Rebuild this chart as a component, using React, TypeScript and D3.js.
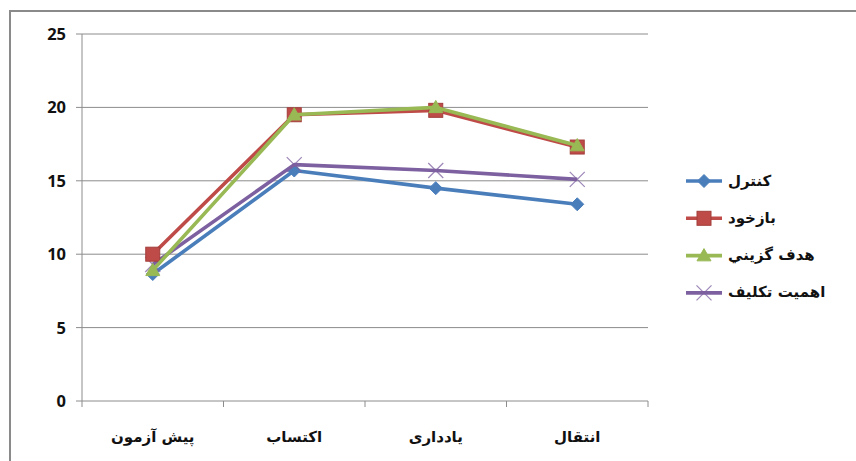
import React from "react";
import * as d3 from "d3";

const categories = ["پیش آزمون", "اکتساب", "یادداری", "انتقال"];
const seriesNames = ["کنترل", "بازخود", "هدف گزيني", "اهميت تكليف"];
const controlValues = [8.65, 15.7, 14.5, 13.4];
const feedbackValues = [10.0, 19.5, 19.8, 17.3];
const goalValues = [8.9, 19.5, 20.0, 17.4];
const taskValues = [9.3, 16.1, 15.7, 15.1];
const yTicks = [0, 5, 10, 15, 20, 25];

const colors = ["#4A7EBB", "#BE4B48", "#98B954", "#7D60A0"];
const markerTypes = ["diamond", "square", "triangle", "x"];

const W = 856;
const H = 461;
const left = 82;
const right = 648;
const top = 34;
const bottom = 401;

function Marker({ type, x, y, color }: { type: string; x: number; y: number; color: string }) {
  if (type === "diamond") {
    const s = 6.5;
    return <path d={`M${x},${y - s}L${x + s},${y}L${x},${y + s}L${x - s},${y}Z`} fill={color} stroke={color} strokeWidth={1} />;
  }
  if (type === "square") {
    const s = 7;
    return <rect x={x - s} y={y - s} width={2 * s} height={2 * s} fill={color} stroke="#A33E3B" strokeWidth={1} />;
  }
  if (type === "triangle") {
    const s = 7;
    return <path d={`M${x},${y - s}L${x + s},${y + s * 0.75}L${x - s},${y + s * 0.75}Z`} fill={color} stroke={color} strokeWidth={1} />;
  }
  const s = 7.5;
  return (
    <g stroke={color} strokeWidth={1.2} opacity={0.75}>
      <line x1={x - s} y1={y - s} x2={x + s} y2={y + s} />
      <line x1={x - s} y1={y + s} x2={x + s} y2={y - s} />
    </g>
  );
}

export default function App() {
  const x = d3.scaleBand<string>().domain(categories).range([left, right]);
  const y = d3.scaleLinear().domain([0, 25]).range([bottom, top]);
  const allSeries = [controlValues, feedbackValues, goalValues, taskValues];
  const cx = (i: number) => (x(categories[i]) as number) + x.bandwidth() / 2;
  const line = d3
    .line<number>()
    .x((_, i) => cx(i))
    .y((d) => y(d));
  const tickXs = [...categories.map((c) => x(c) as number), right];
  const drawOrder = [0, 3, 1, 2];

  return (
    <svg width={W} height={H} style={{ position: "absolute", left: 0, top: 0 }}>
      <rect x={0} y={0} width={W} height={H} fill="#fff" />
      <path d={`M10,${H + 5}L10,11L${W + 5},11`} fill="none" stroke="#8a8a8a" strokeWidth={2} />
      {yTicks.map((t) => (
        <g key={t}>
          <line x1={left - 6} x2={right} y1={y(t)} y2={y(t)} stroke="#8c8c8c" strokeWidth={1} />
          <text x={66} y={y(t)} dy="0.36em" textAnchor="end" fontFamily="'Open Sans', sans-serif" fontWeight="bold" fontSize={16.5} fill="#111">
            {t}
          </text>
        </g>
      ))}
      <line x1={left} x2={left} y1={top} y2={bottom} stroke="#8c8c8c" strokeWidth={1} />
      {tickXs.map((tx, i) => (
        <line key={i} x1={tx} x2={tx} y1={bottom} y2={bottom + 6} stroke="#8c8c8c" strokeWidth={1} />
      ))}
      {categories.map((c, i) => (
        <text
          key={c}
          x={cx(i)}
          y={442}
          textAnchor="middle"
          fontFamily="'DejaVu Sans', sans-serif"
          fontWeight="bold"
          fontSize={15}
          fill="#111"
        >
          {c}
        </text>
      ))}
      {drawOrder.map((si) => (
        <g key={si}>
          <path d={line(allSeries[si]) as string} fill="none" stroke={colors[si]} strokeWidth={3.6} strokeLinejoin="round" />
          {allSeries[si].map((v, i) => (
            <Marker key={i} type={markerTypes[si]} x={cx(i)} y={y(v)} color={colors[si]} />
          ))}
        </g>
      ))}
      {seriesNames.map((n, i) => {
        const ly = 181 + i * 37.3;
        return (
          <g key={n}>
            <line x1={686} x2={722} y1={ly} y2={ly} stroke={colors[i]} strokeWidth={3.6} />
            <Marker type={markerTypes[i]} x={704} y={ly} color={colors[i]} />
            <text x={728} y={ly} dy="0.3em" textAnchor="start" fontFamily="'DejaVu Sans', sans-serif" fontWeight="bold" fontSize={15} fill="#111">
              {n}
            </text>
          </g>
        );
      })}
    </svg>
  );
}
